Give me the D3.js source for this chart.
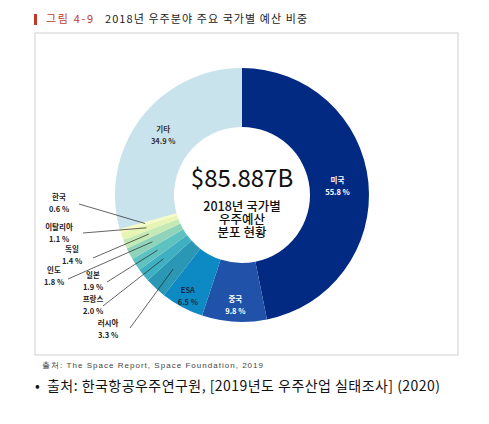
<!DOCTYPE html>
<html>
<head>
<meta charset="utf-8">
<script src="https://cdn.jsdelivr.net/npm/d3@7"></script>
<style>
  body { margin: 0; background: #fff; }
  text { font-family: "Noto Sans CJK KR", "Noto Sans", sans-serif; }
</style>
</head>
<body>
<svg id="chart"></svg>
<script>
const countries = ["미국", "중국", "ESA", "러시아", "프랑스", "일본", "인도", "독일", "이탈리아", "한국", "기타"];
const shares = [55.8, 9.8, 6.5, 3.3, 2.0, 1.9, 1.8, 1.4, 1.1, 0.6, 34.9];
const sliceColors = ["#022a83", "#1f52a8", "#0d89c3", "#2a97b5", "#3fb0c2", "#5ec2c0", "#8fd4ba", "#c4e9b5", "#e6f5b4", "#f6fac6", "#c8e3ec"];
const centreLines = ["2018년 국가별", "우주예산", "분포 현황"];

const width = 489, height = 424;
const cx = 242, cy = 195, outerR = 127, innerR = 68;

const svg = d3.select("#chart").attr("width", width).attr("height", height);

// title
svg.append("rect").attr("x", 34).attr("y", 14).attr("width", 3).attr("height", 11).attr("fill", "#c0392b");
svg.append("text").attr("x", 46).attr("y", 23)
  .attr("textLength", 47).attr("lengthAdjust", "spacing")
  .style("font-size", "11px").attr("fill", "#c0392b").text("그림 4-9");
svg.append("text").attr("x", 105).attr("y", 23)
  .attr("textLength", 202).attr("lengthAdjust", "spacing")
  .style("font-size", "11px").attr("fill", "#222").text("2018년 우주분야 주요 국가별 예산 비중");

// frame
svg.append("rect")
  .attr("x", 35).attr("y", 33).attr("width", 423).attr("height", 322)
  .attr("fill", "none").attr("stroke", "#cfcfcf").attr("stroke-width", 1);

const g = svg.append("g").attr("transform", `translate(${cx},${cy})`);

const pie = d3.pie().sort(null).value((d) => d.value);
const arcs = pie(countries.map((c, i) => ({ name: c, value: shares[i], color: sliceColors[i] })));

const arc = d3.arc().innerRadius(innerR).outerRadius(outerR);

g.selectAll("path.slice")
  .data(arcs)
  .enter()
  .append("path")
  .attr("class", "slice")
  .attr("d", arc)
  .attr("fill", (d) => d.data.color);

// labels inside the ring
const insideR = { "미국": 96, "중국": 110, "ESA": 115, "기타": 99 };
const insideColor = { "미국": "#fff", "중국": "#fff", "ESA": "#1a2a4a", "기타": "#333" };
arcs.filter((d) => insideR[d.data.name]).forEach((d) => {
  const r = insideR[d.data.name];
  const [x, y] = d3.arc().innerRadius(r).outerRadius(r).centroid(d);
  const t = g.append("text")
    .attr("text-anchor", "middle")
    .attr("fill", insideColor[d.data.name])
    .style("font-size", "7.5px")
    .style("font-weight", "bold");
  t.append("tspan").attr("x", x).attr("y", y - 3).text(d.data.name);
  t.append("tspan").attr("x", x).attr("y", y + 9).text(d.data.value.toFixed(1) + " %");
});

// callout labels for the small slices (label spot + line start, page coords)
const callouts = {
  "한국": [59, 200, 79, 204],
  "이탈리아": [59, 230, 83, 233],
  "독일": [72, 252, 93, 258],
  "인도": [54, 273, 68, 279],
  "일본": [93, 278, 107, 282],
  "프랑스": [93, 302, 103, 306],
  "러시아": [108, 326, 130, 328]
};
const pointArc = d3.arc().innerRadius(101).outerRadius(101);
arcs.filter((d) => callouts[d.data.name]).forEach((d) => {
  const [lx, ly, sx, sy] = callouts[d.data.name];
  const [px, py] = pointArc.centroid(d);
  svg.append("line")
    .attr("x1", sx).attr("y1", sy)
    .attr("x2", cx + px).attr("y2", cy + py)
    .attr("stroke", "#222").attr("stroke-width", 0.7);
  const t = svg.append("text")
    .attr("text-anchor", "middle")
    .attr("fill", "#222")
    .style("font-size", "7.5px")
    .style("font-weight", "bold");
  t.append("tspan").attr("x", lx).attr("y", ly).text(d.data.name);
  t.append("tspan").attr("x", lx).attr("y", ly + 12).text(d.data.value.toFixed(1) + " %");
});

// centre text
g.append("text").attr("text-anchor", "middle").attr("y", -8)
  .style("font-size", "24px").attr("fill", "#111").text("$85.887B");
const sub = g.append("text").attr("text-anchor", "middle")
  .style("font-size", "12.5px").style("font-weight", 500).attr("fill", "#111");
centreLines.forEach((s, i) => {
  sub.append("tspan").attr("x", 0).attr("y", 16 + i * 13).text(s);
});

// sources
svg.append("text").attr("x", 42).attr("y", 368)
  .attr("textLength", 221).attr("lengthAdjust", "spacing")
  .style("font-family", "'Liberation Sans', Arial, sans-serif")
  .style("font-size", "8px").attr("fill", "#444")
  .text("출처: The Space Report, Space Foundation, 2019");
svg.append("text").attr("x", 35).attr("y", 391)
  .style("font-size", "14px").attr("fill", "#111").text("•");
svg.append("text").attr("x", 47).attr("y", 391)
  .attr("textLength", 393).attr("lengthAdjust", "spacing")
  .style("font-size", "14px").attr("fill", "#111")
  .text("출처: 한국항공우주연구원, [2019년도 우주산업 실태조사] (2020)");
</script>
</body>
</html>
